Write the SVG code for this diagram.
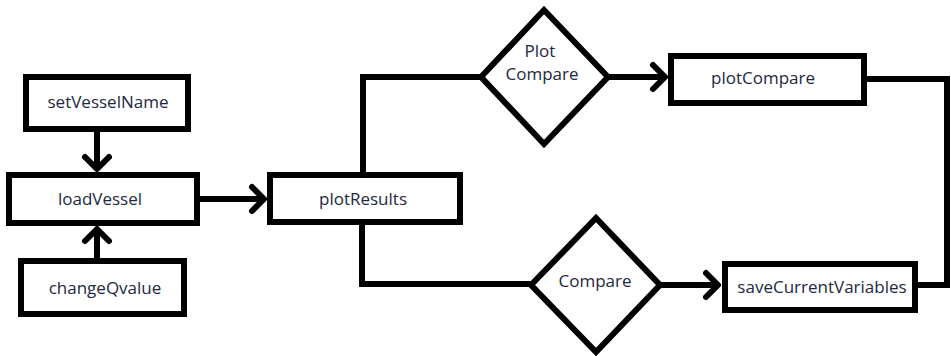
<svg xmlns="http://www.w3.org/2000/svg" width="951" height="356" viewBox="0 0 951 356">
<style>
.box{fill:#fff;stroke:#000;stroke-width:6}
.dia{fill:#fff;stroke:#000;stroke-width:6;stroke-linejoin:miter}
.lbl{font-family:"Open Sans","Noto Sans",sans-serif;font-size:17px;fill:#1c2940;text-anchor:middle}
.conn{fill:none;stroke:#000;stroke-width:6;stroke-linejoin:miter}
</style>
<defs>
<marker id="arr" markerUnits="userSpaceOnUse" viewBox="-18 -18 24 36" refX="0" refY="0" markerWidth="24" markerHeight="36" orient="auto" overflow="visible">
<path d="M-12,-12 L0,0 L-12,12" fill="none" stroke="#000" stroke-width="6" stroke-linecap="round" stroke-linejoin="round"/>
</marker>
</defs>
<rect width="951" height="356" fill="#fff"/>
<g id="connectors">
<path class="conn" d="M97,132 V169" marker-end="url(#arr)"/>
<path class="conn" d="M97,258 V229" marker-end="url(#arr)"/>
<path class="conn" d="M200,199 H264" marker-end="url(#arr)"/>
<path class="conn" d="M363,172 V77 H481"/>
<path class="conn" d="M608,77 H665" marker-end="url(#arr)"/>
<path class="conn" d="M362,225 V284 H531"/>
<path class="conn" d="M660,285 H718" marker-end="url(#arr)"/>
<path class="conn" d="M867,79 H947 V285 H918"/>
</g>
<g id="setVesselName">
<rect class="box" x="26" y="77" width="162" height="52"/>
<text class="lbl" x="108" y="108">setVesselName</text>
</g>
<g id="loadVessel">
<rect class="box" x="9" y="175" width="188" height="48"/>
<text class="lbl" x="100" y="205">loadVessel</text>
</g>
<g id="changeQvalue">
<rect class="box" x="21" y="261" width="163" height="53"/>
<text class="lbl" x="105" y="294">changeQvalue</text>
</g>
<g id="plotResults">
<rect class="box" x="270" y="175" width="190" height="47"/>
<text class="lbl" x="363" y="205">plotResults</text>
</g>
<g id="plotCompareDecision">
<polygon class="dia" points="481,77 544,10 608,77 544,144"/>
<text class="lbl" x="540" y="57">Plot</text>
<text class="lbl" x="542" y="80">Compare</text>
</g>
<g id="plotCompare">
<rect class="box" x="671" y="56" width="193" height="47"/>
<text class="lbl" x="763" y="84">plotCompare</text>
</g>
<g id="compareDecision">
<polygon class="dia" points="531,285 596,218 660,285 596,352"/>
<text class="lbl" x="595" y="287">Compare</text>
</g>
<g id="saveCurrentVariables">
<rect class="box" x="725" y="264" width="190" height="46"/>
<text class="lbl" x="822" y="293">saveCurrentVariables</text>
</g>
</svg>
